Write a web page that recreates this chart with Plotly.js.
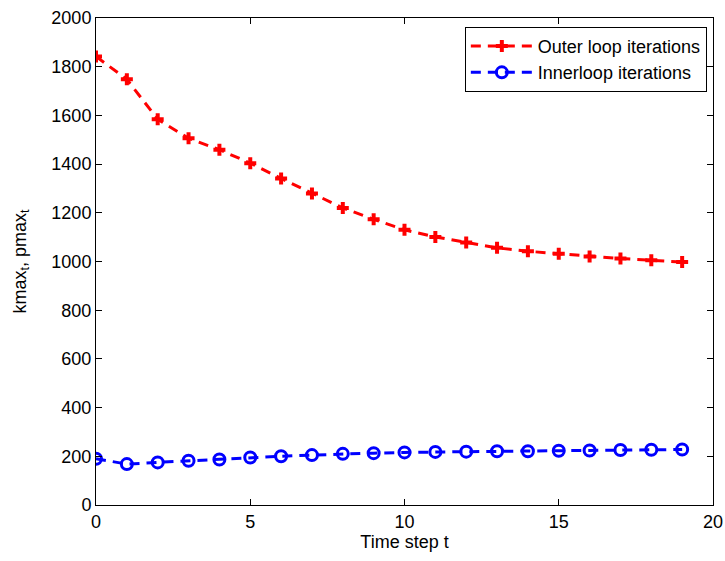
<!DOCTYPE html>
<html>
<head>
<meta charset="utf-8">
<script src="https://cdn.plot.ly/plotly-3.0.1.min.js"></script>
<style>html,body{margin:0;padding:0;background:#fff;}#chart{width:725px;height:561px;}</style>
</head>
<body>
<div id="chart"></div>
<script>
const timeSteps = [0,1,2,3,4,5,6,7,8,9,10,11,12,13,14,15,16,17,18,19];
const outerLoop = [1842,1748,1584,1506,1459,1404,1341,1279,1220,1173,1130,1101,1078,1056,1042,1032,1021,1012,1005,998];
const innerLoop = [190,168,175,182,187,195,200,205,210,213,216,218,219,221,221,223,224,226,227,228];
const xTicks = [0,5,10,15,20];
const yTicks = [0,200,400,600,800,1000,1200,1400,1600,1800,2000];

const traces = [
  {x: timeSteps, y: outerLoop, name: 'Outer loop iterations', mode: 'lines+markers',
   line: {color: '#ff0000', width: 3, dash: '10px,7px'},
   marker: {symbol: 'cross', size: 10, color: '#ff0000'}},
  {x: timeSteps, y: innerLoop, name: 'Innerloop iterations', mode: 'lines+markers',
   line: {color: '#0000ff', width: 3, dash: '10px,7px'},
   marker: {symbol: 'circle-open', size: 11, color: '#0000ff', line: {width: 3, color: '#0000ff'}}}
];

const fam = 'Liberation Sans, Arial, Helvetica, sans-serif';
const axisCommon = {showgrid: false, zeroline: false, showline: true, linecolor: '#000', linewidth: 1,
  mirror: 'ticks', ticks: 'inside', ticklen: 6, tickcolor: '#000',
  tickfont: {size: 18, color: '#000', family: fam}};

const layout = {
  width: 725, height: 561,
  margin: {l: 96, r: 12, t: 18, b: 56},
  paper_bgcolor: '#fff', plot_bgcolor: '#fff',
  font: {family: fam, color: '#000', size: 18},
  showlegend: true,
  legend: {x: 0.99, y: 0.982, xanchor: 'right', yanchor: 'top', bordercolor: '#000', borderwidth: 1,
    bgcolor: '#fff', font: {size: 18, family: fam}, tracegroupgap: 0, itemwidth: 62},
  xaxis: Object.assign({}, axisCommon, {range: [0, 20], tickvals: xTicks,
    title: {text: 'Time step t', font: {size: 18}, standoff: 4}}),
  yaxis: Object.assign({}, axisCommon, {range: [0, 2000], tickvals: yTicks,
    title: {text: 'kmax<sub>t</sub>, pmax<sub>t</sub>', font: {size: 18}, standoff: 20}})
};

Plotly.newPlot('chart', traces, layout, {displayModeBar: false});
</script>
</body>
</html>
